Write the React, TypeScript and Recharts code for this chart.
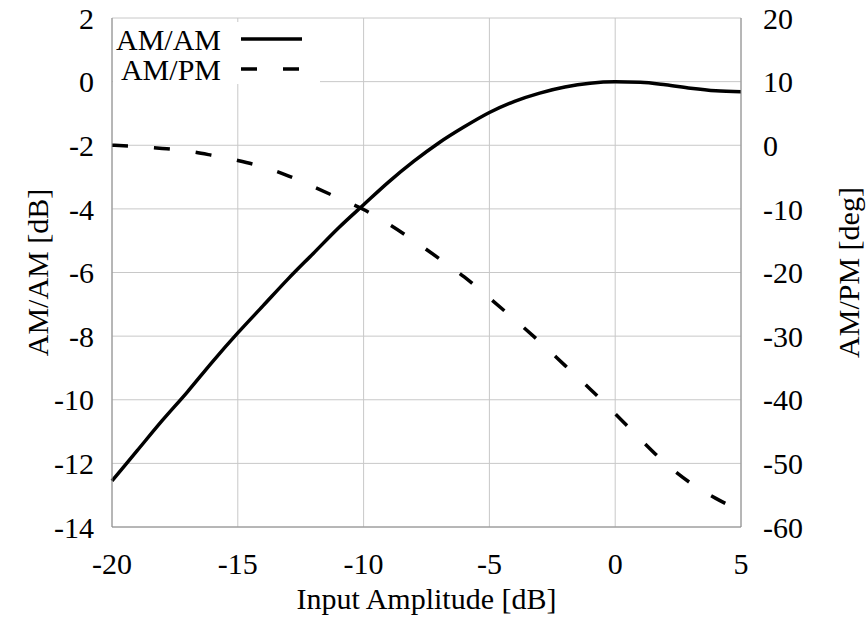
import { LineChart, Line, XAxis, YAxis, CartesianGrid, Legend } from 'recharts';

// input amplitude in dB, one point per dB
const inputAmplitude = [
  -20, -19, -18, -17, -16, -15, -14, -13, -12, -11, -10, -9, -8,
  -7, -6, -5, -4, -3, -2, -1, 0, 1, 2, 3, 4, 5,
];

// AM/AM in dB (left axis)
const amAm = [
  -12.55, -11.6, -10.65, -9.75, -8.8, -7.9, -7.05, -6.2, -5.4, -4.6, -3.87, -3.15, -2.5,
  -1.92, -1.42, -0.97, -0.62, -0.36, -0.17, -0.05, -0.005, -0.02, -0.1, -0.21, -0.29, -0.32,
];

// AM/PM in degrees (right axis)
const amPm = [
  0, -0.2, -0.5, -0.9, -1.6, -2.4, -3.4, -4.8, -6.5, -8.3, -10.1, -12.4, -15.0,
  -17.8, -20.7, -24.0, -27.4, -30.9, -34.6, -38.3, -42.2, -46.2, -50.0, -53.1, -55.5, -57.5,
];

const xTicks = [-20, -15, -10, -5, 0, 5];
const amAmTicks = [-14, -12, -10, -8, -6, -4, -2, 0, 2];
const amPmTicks = [-60, -50, -40, -30, -20, -10, 0, 10, 20];

const FONT = '"Liberation Serif", "Times New Roman", serif';
const DASH = '16 26';
const FRAME = '#8a8a8a';

const data = inputAmplitude.map((x, i) => ({ x, amAm: amAm[i], amPm: amPm[i] }));

const tickStyle = { fontSize: 30, fontFamily: FONT, fill: '#000' };
const labelStyle = { fontSize: 30, fontFamily: FONT, fill: '#000', textAnchor: 'middle' as const };

// gnuplot-style key: label on the left, line sample on the right
function KeyBox() {
  return (
    <svg width={207} height={66} style={{ overflow: 'visible' }}>
      <text x={108} y={28} textAnchor="end" fontSize={30} fontFamily={FONT} fill="#000">
        AM/AM
      </text>
      <line x1={128} x2={189} y1={17} y2={17} stroke="#000" strokeWidth={3.5} />
      <text x={108} y={58} textAnchor="end" fontSize={30} fontFamily={FONT} fill="#000">
        AM/PM
      </text>
      <line x1={128} x2={189} y1={47} y2={47} stroke="#000" strokeWidth={3.5} strokeDasharray={DASH} />
    </svg>
  );
}

export default function App() {
  return (
    <div style={{ position: 'absolute', left: 0, top: 0, background: '#fff' }}>
      <LineChart width={866} height={624} data={data} margin={{ top: 18, right: 0, bottom: 0, left: 0 }}>
        <CartesianGrid stroke="#c8c8c8" yAxisId="left" />
        <XAxis
          xAxisId="top"
          orientation="top"
          type="number"
          dataKey="x"
          domain={[-20, 5]}
          ticks={xTicks}
          tick={false}
          tickLine={false}
          height={0}
          axisLine={{ stroke: FRAME }}
        />
        <XAxis
          type="number"
          dataKey="x"
          domain={[-20, 5]}
          ticks={xTicks}
          height={97}
          tickLine={false}
          tickMargin={20}
          tick={tickStyle}
          axisLine={{ stroke: FRAME }}
          label={{ value: 'Input Amplitude [dB]', position: 'insideBottom', offset: 15, style: labelStyle }}
        />
        <YAxis
          yAxisId="left"
          domain={[-14, 2]}
          ticks={amAmTicks}
          width={112}
          tickLine={false}
          tickMargin={12}
          tick={tickStyle}
          axisLine={{ stroke: FRAME }}
          label={{ value: 'AM/AM [dB]', angle: -90, position: 'insideLeft', offset: 37, style: labelStyle }}
        />
        <YAxis
          yAxisId="right"
          orientation="right"
          domain={[-60, 20]}
          ticks={amPmTicks}
          width={125}
          tickLine={false}
          tickMargin={16}
          tick={tickStyle}
          axisLine={{ stroke: FRAME }}
          label={{ value: 'AM/PM [deg]', angle: -90, position: 'insideRight', offset: 18, style: labelStyle }}
        />
        <Legend
          content={<KeyBox />}
          layout="horizontal"
          verticalAlign="middle"
          align="center"
          wrapperStyle={{ left: 113, top: 22, width: 207, height: 62, background: '#fff' }}
        />
        <Line
          yAxisId="left"
          type="monotone"
          dataKey="amAm"
          name="AM/AM"
          stroke="#000"
          strokeWidth={3.5}
          dot={false}
          isAnimationActive={false}
        />
        <Line
          yAxisId="right"
          type="monotone"
          dataKey="amPm"
          name="AM/PM"
          stroke="#000"
          strokeWidth={3.5}
          strokeDasharray={DASH}
          dot={false}
          isAnimationActive={false}
        />
      </LineChart>
    </div>
  );
}
